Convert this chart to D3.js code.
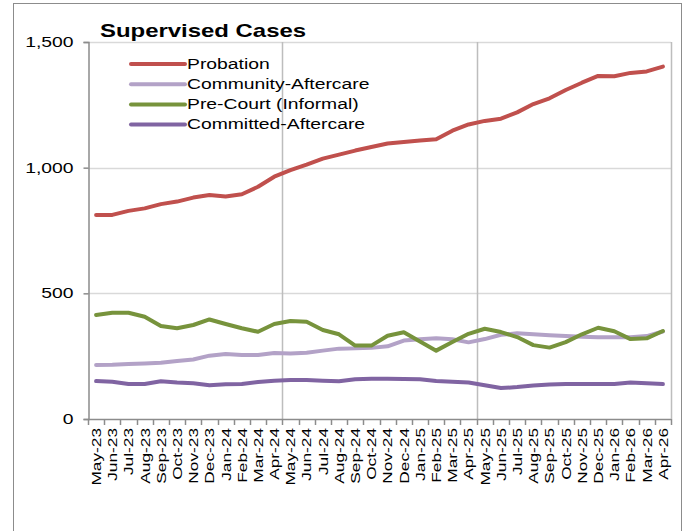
<!DOCTYPE html>
<html>
<head>
<meta charset="utf-8">
<script src="https://cdn.jsdelivr.net/npm/d3@7"></script>
<style>
  body { margin: 0; background: #fff; }
  text { font-family: "Liberation Sans", Arial, sans-serif; fill: #000; }
</style>
</head>
<body>
<div id="chart"></div>
<script>
"use strict"

// months on the x axis
let months = ["May-23", "Jun-23", "Jul-23", "Aug-23", "Sep-23", "Oct-23", "Nov-23", "Dec-23",
  "Jan-24", "Feb-24", "Mar-24", "Apr-24", "May-24", "Jun-24", "Jul-24", "Aug-24", "Sep-24", "Oct-24",
  "Nov-24", "Dec-24", "Jan-25", "Feb-25", "Mar-25", "Apr-25", "May-25", "Jun-25", "Jul-25", "Aug-25",
  "Sep-25", "Oct-25", "Nov-25", "Dec-25", "Jan-26", "Feb-26", "Mar-26", "Apr-26"];

// values
let probation = [812, 812, 828, 838, 855, 865, 881, 891, 885, 894, 924, 964,
  990, 1012, 1036, 1052, 1068, 1082, 1096, 1102, 1108, 1113, 1147, 1172,
  1186, 1195, 1220, 1253, 1276, 1309, 1338, 1365, 1364, 1377, 1383, 1402];
let communityAftercare = [215, 216, 219, 221, 224, 231, 237, 252, 259, 255, 255, 263,
  261, 264, 272, 280, 281, 283, 289, 312, 317, 321, 317, 305,
  318, 335, 341, 337, 333, 330, 327, 325, 325, 325, 330, 348];
let preCourt = [414, 423, 423, 407, 370, 361, 374, 396, 378, 361, 347, 378,
  390, 387, 354, 337, 292, 292, 331, 345, 308, 272, 306, 339,
  359, 346, 326, 294, 284, 306, 337, 363, 349, 318, 321, 350];
let committedAftercare = [151, 148, 139, 139, 150, 145, 142, 134, 138, 139, 147, 152,
  155, 155, 152, 150, 158, 160, 160, 159, 158, 151, 148, 145,
  134, 123, 127, 133, 137, 139, 139, 139, 139, 145, 142, 139];

let seriesNames = ["Probation", "Community-Aftercare", "Pre-Court (Informal)", "Committed-Aftercare"];
let seriesValues = [probation, communityAftercare, preCourt, committedAftercare];
let seriesColors = ["#c0504d", "#b3a2c7", "#77933c", "#8064a2"];

let yTicks = [0, 500, 1000, 1500];

let width = 686, height = 531;
let stretch = 1.38; // text in the picture is drawn wide

let svg = d3.select("#chart").append("svg")
  .attr("width", width)
  .attr("height", height);

// outer frame
svg.append("rect")
  .attr("x", 13.5).attr("y", 3.5)
  .attr("width", 668).attr("height", 540)
  .attr("fill", "none")
  .attr("stroke", "#8c8c8c")
  .attr("stroke-width", 1);

let x = d3.scaleBand().domain(months).range([88, 671]);
let y = d3.scaleLinear().domain([0, 1500]).range([419, 42]);

// horizontal gridlines
svg.append("g")
  .selectAll("line")
  .data(yTicks.filter(d => d > 0))
  .enter()
  .append("line")
  .attr("x1", 88).attr("x2", 671)
  .attr("y1", d => Math.round(y(d)) + 0.5)
  .attr("y2", d => Math.round(y(d)) + 0.5)
  .attr("stroke", "#d9d9d9")
  .attr("stroke-width", 1.5);

// vertical gridlines every 12 months, plus the right edge
let vLines = months.filter((m, i) => i > 0 && i % 12 == 0).map(m => x(m));
vLines.push(x.range()[1]);
svg.append("g")
  .selectAll("line")
  .data(vLines)
  .enter()
  .append("line")
  .attr("x1", d => Math.round(d) + 0.5).attr("x2", d => Math.round(d) + 0.5)
  .attr("y1", 42).attr("y2", 419)
  .attr("stroke", "#bdbdbd")
  .attr("stroke-width", 1.5);

// y axis
let yAxis = svg.append("g")
  .attr("transform", "translate(88.5,0)")
  .call(d3.axisLeft(y).tickValues(yTicks).tickFormat(d3.format(",")).tickSize(5).tickPadding(0));
yAxis.select(".domain").attr("stroke", "#8c8c8c").attr("stroke-width", 1.5);
yAxis.selectAll(".tick line").attr("stroke", "#8c8c8c").attr("stroke-width", 1.5);
yAxis.selectAll(".tick text")
  .attr("x", null).attr("dy", null)
  .attr("transform", "translate(-15,0) scale(" + stretch + ",1)")
  .attr("dominant-baseline", "central")
  .style("font-size", "14px")
  .style("font-family", "'Liberation Sans', Arial, sans-serif");

// x axis line and boundary ticks
let bounds = months.map(m => x(m));
bounds.push(x.range()[1]);
svg.append("line")
  .attr("x1", 88).attr("x2", 671)
  .attr("y1", 419.5).attr("y2", 419.5)
  .attr("stroke", "#8c8c8c").attr("stroke-width", 1.5);
svg.append("g")
  .selectAll("line")
  .data(bounds)
  .enter()
  .append("line")
  .attr("x1", d => Math.round(d) + 0.5).attr("x2", d => Math.round(d) + 0.5)
  .attr("y1", 419).attr("y2", 425)
  .attr("stroke", "#8c8c8c").attr("stroke-width", 1.5);

// rotated month labels
svg.append("g")
  .selectAll("text")
  .data(months)
  .enter()
  .append("text")
  .attr("transform", d => "translate(" + (x(d) + x.bandwidth() / 2) + ",428) rotate(-90) scale(1.28,1)")
  .attr("text-anchor", "end")
  .attr("dy", "0.36em")
  .style("font-size", "13.5px")
  .text(d => d);

// lines
let line = d3.line()
  .x((d, i) => x(months[i]) + x.bandwidth() / 2)
  .y(d => y(d));

svg.append("g")
  .selectAll("path")
  .data(seriesValues)
  .enter()
  .append("path")
  .attr("d", d => line(d))
  .attr("fill", "none")
  .attr("stroke", (d, i) => seriesColors[i])
  .attr("stroke-width", 4)
  .attr("stroke-linejoin", "round")
  .attr("stroke-linecap", "round");

// title
svg.append("text")
  .attr("transform", "translate(100,37) scale(1.33,1)")
  .style("font-size", "18px")
  .style("font-weight", "bold")
  .text("Supervised Cases");

// legend
let legend = svg.append("g")
  .selectAll("g")
  .data(seriesNames)
  .enter()
  .append("g")
  .attr("transform", (d, i) => "translate(0," + (64 + i * 20.2) + ")");
legend.append("line")
  .attr("x1", 131).attr("x2", 185)
  .attr("y1", 0).attr("y2", 0)
  .attr("stroke", (d, i) => seriesColors[i])
  .attr("stroke-width", 4)
  .attr("stroke-linecap", "round");
legend.append("text")
  .attr("transform", "translate(187,0) scale(" + stretch + ",1)")
  .attr("dominant-baseline", "central")
  .style("font-size", "14px")
  .text(d => d);
</script>
</body>
</html>
